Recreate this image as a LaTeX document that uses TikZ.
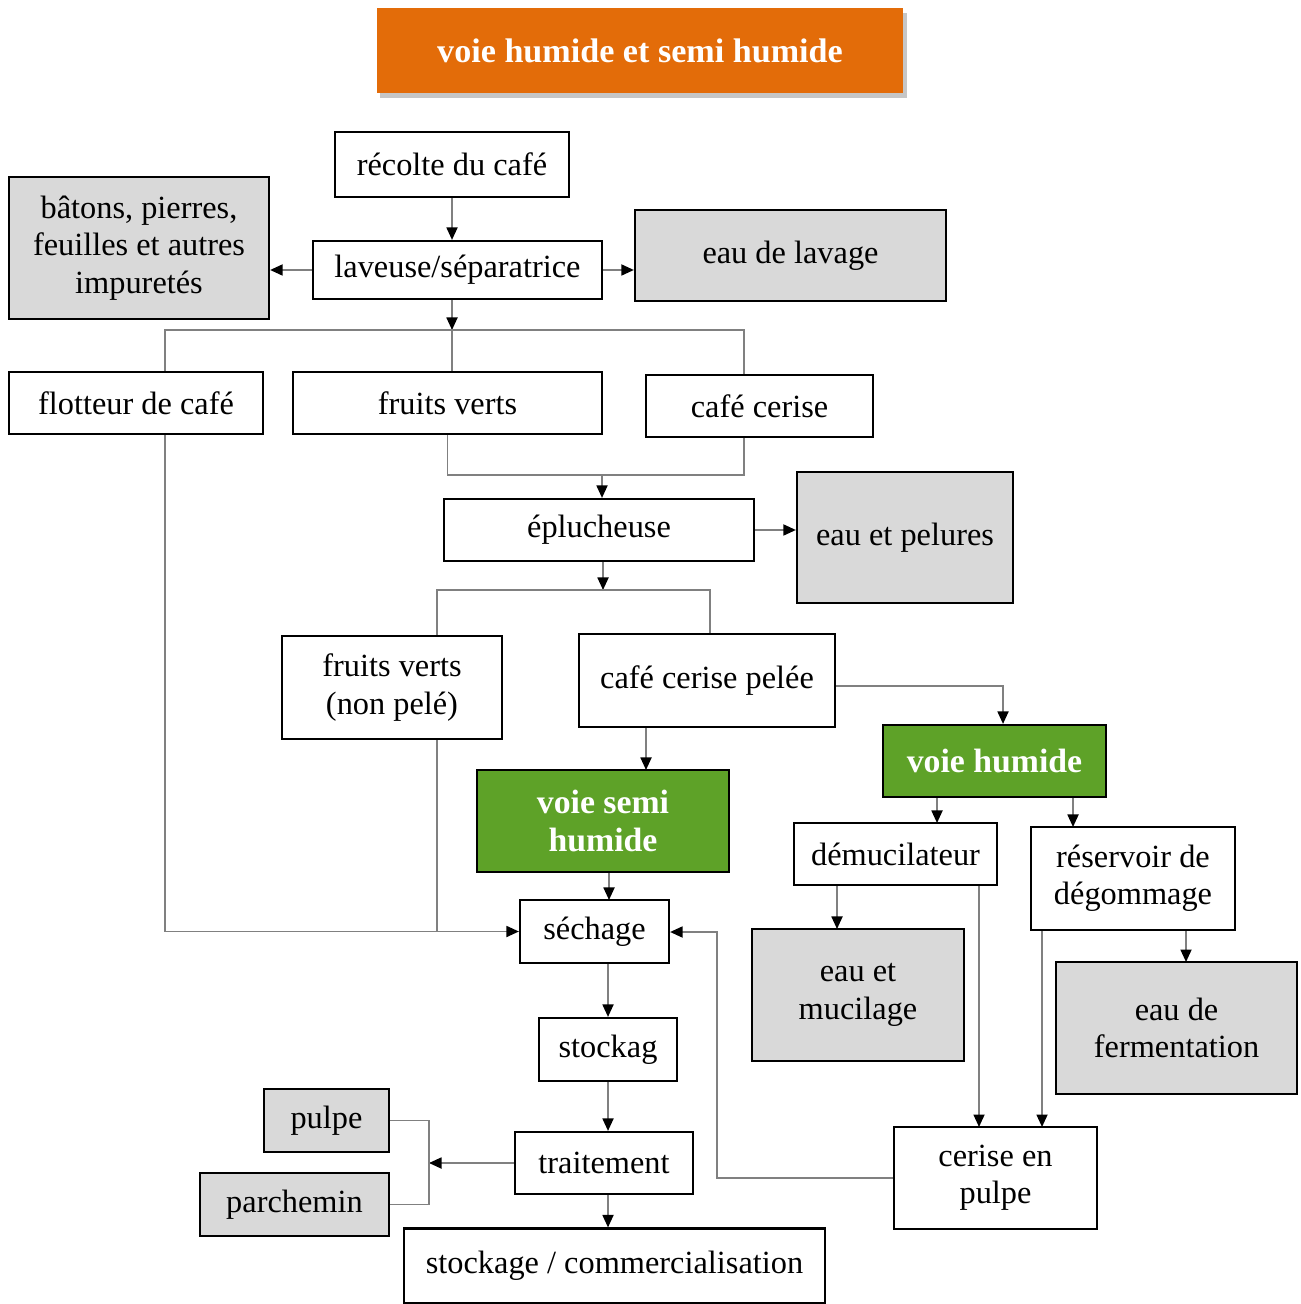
\documentclass[tikz,border=0pt]{standalone}
\usepackage{fontspec}
\setmainfont{Liberation Serif}
\usetikzlibrary{arrows.meta,shadows}
\definecolor{titreorange}{HTML}{E36C09}
\definecolor{voievert}{HTML}{5EA228}
\definecolor{rejetgris}{HTML}{D9D9D9}
\definecolor{liengris}{HTML}{808080}

\begin{document}
\begin{tikzpicture}[x=0.01cm,y=-0.01cm,
    >={Triangle[length=1.25mm,width=1.1mm,color=black]},
    etape/.style={draw=black,line width=0.6pt,fill=white,align=center,inner sep=0pt,
      font=\fontsize{9.2}{10.6}\selectfont},
    rejet/.style={etape,fill=rejetgris},
    voie/.style={etape,fill=voievert,text=white,font=\fontsize{9.6}{10.8}\selectfont\bfseries},
    titre/.style={fill=titreorange,text=white,inner sep=0pt,
      font=\fontsize{9.7}{11}\selectfont\bfseries,
      drop shadow={shadow xshift=1pt,shadow yshift=-1.5pt,opacity=0.45}},
    lien/.style={->,draw=liengris,line width=0.5pt},
    trait/.style={draw=liengris,line width=0.5pt}]
%
\useasboundingbox (0,0) rectangle (1301,1304);
%
% ============ Titel ============
\node[titre,minimum width=5.26cm,minimum height=0.85cm] (titre) at (640,50.5) {voie humide et semi humide};
%
% ============ Lavage ============
\node[etape,minimum width=2.34cm,minimum height=0.65cm] (recolte) at (452,164.5) {récolte du café};
\node[etape,minimum width=2.89cm,minimum height=0.58cm] (laveuse) at (457.5,270) {laveuse/séparatrice};
\node[rejet,minimum width=2.60cm,minimum height=1.42cm] (impuretes) at (139,248) {bâtons, pierres,\\feuilles et autres\\impuretés};
\node[rejet,minimum width=3.11cm,minimum height=0.91cm] (lavage) at (790.5,255.5) {eau de lavage};
\node[etape,minimum width=2.54cm,minimum height=0.62cm] (flotteur) at (136,403) {flotteur de café};
\node[etape,minimum width=3.09cm,minimum height=0.62cm] (verts) at (447.5,403) {fruits verts};
\node[etape,minimum width=2.27cm,minimum height=0.62cm] (cerise) at (759.5,406) {café cerise};
%
% ============ Epluchage ============
\node[etape,minimum width=3.10cm,minimum height=0.62cm] (eplucheuse) at (599,530) {éplucheuse};
\node[rejet,minimum width=2.16cm,minimum height=1.31cm] (pelures) at (905,537.5) {eau et pelures};
\node[etape,minimum width=2.20cm,minimum height=1.03cm] (nonpele) at (392,687.5) {fruits verts\\(non pelé)};
\node[etape,minimum width=2.56cm,minimum height=0.93cm] (pelee) at (707,680.5) {café cerise pelée};
%
% ============ Voies ============
\node[voie,minimum width=2.23cm,minimum height=0.72cm] (humide) at (994.5,761) {voie humide};
\node[voie,minimum width=2.52cm,minimum height=1.02cm] (semi) at (603,821) {voie semi\\humide};
\node[etape,minimum width=2.03cm,minimum height=0.62cm] (demuc) at (895.5,854) {démucilateur};
\node[etape,minimum width=2.04cm,minimum height=1.03cm] (reservoir) at (1133,878.5) {réservoir de\\dégommage};
\node[rejet,minimum width=2.12cm,minimum height=1.32cm] (mucilage) at (858,995) {eau et\\mucilage};
\node[rejet,minimum width=2.41cm,minimum height=1.32cm] (fermentation) at (1176.5,1028) {eau de\\fermentation};
\node[etape,minimum width=2.03cm,minimum height=1.02cm] (cpulpe) at (995.5,1178) {cerise en\\pulpe};
%
% ============ Sechage und Rest ============
\node[etape,minimum width=1.49cm,minimum height=0.63cm] (sechage) at (594.5,931.5) {séchage};
\node[etape,minimum width=1.38cm,minimum height=0.63cm] (stockag) at (608,1049.5) {stockag};
\node[etape,minimum width=1.78cm,minimum height=0.62cm] (traitement) at (604,1163) {traitement};
\node[rejet,minimum width=1.25cm,minimum height=0.63cm] (pulpe) at (326.5,1120.5) {pulpe};
\node[rejet,minimum width=1.89cm,minimum height=0.63cm] (parchemin) at (294.5,1204.5) {parchemin};
\node[etape,minimum width=4.21cm,minimum height=0.75cm] (commerce) at (614.5,1266) {stockage / commercialisation};
%
% Hilfspunkte
\coordinate (split1) at (452,330);
\coordinate (gauche1) at (165,330);
\coordinate (droite1) at (744,330);
\coordinate (union2) at (602,475);
\coordinate (split3) at (603,590);
\coordinate (gauche3) at (437,590);
\coordinate (droite3) at (710,590);
\coordinate (coude4) at (1003,686);
\coordinate (entree-semi) at (646,770);
\coordinate (entree-sech) at (609,900);
\coordinate (entree-demuc) at (937,823);
\coordinate (entree-res) at (1073,827);
\coordinate (entree-muc) at (837,929);
\coordinate (entree-ferm) at (1186,962);
\coordinate (entree-cp1) at (979,1127);
\coordinate (entree-cp2) at (1042,1127);
\coordinate (retour) at (717,932);
\coordinate (accolade) at (429,1163);
%
% Pfeile
\draw[lien] (recolte.south) -- (recolte.south |- laveuse.north);
\draw[lien] (laveuse.west) -- (laveuse.west -| impuretes.east);
\draw[lien] (laveuse.east) -- (laveuse.east -| lavage.west);
\draw[lien] (split1 |- laveuse.south) -- (split1);
\draw[trait] (gauche1 |- flotteur.north) -- (gauche1) -- (droite1) -- (droite1 |- cerise.north);
\draw[trait] (split1) -- (split1 |- verts.north);
\draw[trait] (verts.south) |- (union2);
\draw[trait] (droite1 |- cerise.south) |- (union2);
\draw[lien] (union2) -- (union2 |- eplucheuse.north);
\draw[lien] (eplucheuse.east) -- (eplucheuse.east -| pelures.west);
\draw[lien] (split3 |- eplucheuse.south) -- (split3);
\draw[trait] (gauche3 |- nonpele.north) -- (gauche3) -- (droite3) -- (droite3 |- pelee.north);
\draw[lien] (coude4 -| pelee.east) -- (coude4) -- (coude4 |- humide.north);
\draw[lien] (entree-semi |- pelee.south) -- (entree-semi);
\draw[lien] (entree-sech |- semi.south) -- (entree-sech);
\draw[lien] (entree-demuc |- humide.south) -- (entree-demuc);
\draw[lien] (entree-res |- humide.south) -- (entree-res);
\draw[lien] (entree-muc |- demuc.south) -- (entree-muc);
\draw[lien] (entree-cp1 |- demuc.south) -- (entree-cp1);
\draw[lien] (entree-ferm |- reservoir.south) -- (entree-ferm);
\draw[lien] (entree-cp2 |- reservoir.south) -- (entree-cp2);
\draw[lien] (cpulpe.west) -| (retour) -- (retour -| sechage.east);
\draw[lien] (gauche1 |- flotteur.south) |- (sechage.west);
\draw[trait] (gauche3 |- nonpele.south) -- (gauche3 |- sechage.west);
\draw[lien] (stockag.north |- sechage.south) -- (stockag.north);
\draw[lien] (stockag.south) -- (stockag.south |- traitement.north);
\draw[lien] (stockag.south |- traitement.south) -- (stockag.south |- commerce.north);
\draw[lien] (traitement.west) -- (accolade);
\draw[trait] (pulpe.east) -| (accolade) |- (parchemin.east);
%
\end{tikzpicture}
\end{document}
